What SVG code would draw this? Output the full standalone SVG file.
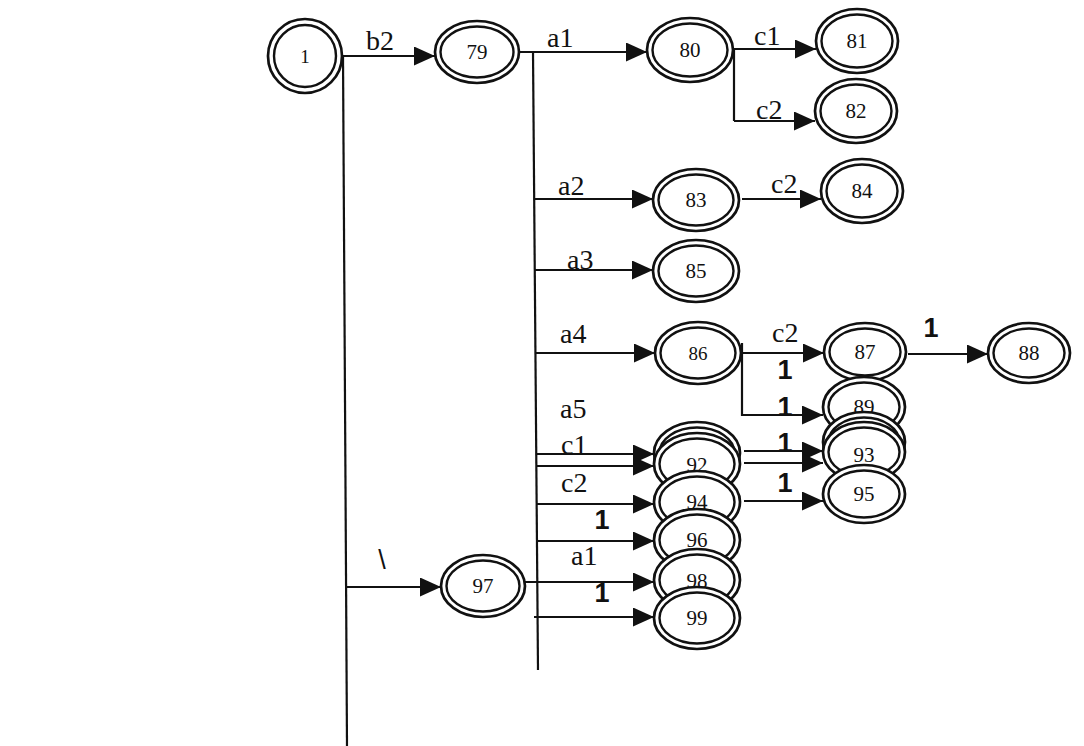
<svg xmlns="http://www.w3.org/2000/svg" width="1084" height="746" viewBox="0 0 1084 746">
<style>
.o{fill:#fff;stroke:#111;stroke-width:2.7}
.i{fill:none;stroke:#111;stroke-width:2.4}
.n{font-family:"Liberation Serif",serif;font-size:21px;text-anchor:middle;fill:#111}
.l{font-family:"Liberation Serif",serif;font-size:28px;fill:#111}
.b{font-family:"Liberation Sans",sans-serif;font-weight:bold;font-size:27px;text-anchor:middle;fill:#111}
.e{stroke:#111;stroke-width:2.2;fill:none}
.a{marker-end:url(#ah)}
</style>
<defs>
<marker id="ah" markerUnits="userSpaceOnUse" markerWidth="21" markerHeight="19" refX="21" refY="9.5" orient="auto">
<path d="M0,0 L21,9.5 L0,19 Z" fill="#111"/>
</marker>
</defs>
<rect width="1084" height="746" fill="#fff"/>
<g id="connectors">
<line class="e a" x1="342" y1="56" x2="435" y2="56"/>
<line class="e" x1="343" y1="56" x2="347" y2="746"/>
<line class="e a" x1="345" y1="587" x2="441" y2="587"/>
<line class="e a" x1="520" y1="52" x2="647" y2="52"/>
<line class="e" x1="533" y1="52" x2="538" y2="670"/>
<line class="e a" x1="535" y1="199" x2="653" y2="199"/>
<line class="e a" x1="535" y1="270" x2="653" y2="270"/>
<line class="e a" x1="536" y1="353" x2="655" y2="353"/>
<line class="e a" x1="537" y1="454" x2="654" y2="454"/>
<line class="e a" x1="537" y1="466" x2="654" y2="466"/>
<line class="e a" x1="537" y1="504" x2="654" y2="504"/>
<line class="e a" x1="537" y1="541" x2="654" y2="541"/>
<line class="e a" x1="525" y1="582" x2="654" y2="582"/>
<line class="e a" x1="534" y1="617" x2="654" y2="617"/>
<line class="e a" x1="733" y1="49" x2="816" y2="49"/>
<line class="e" x1="734" y1="49" x2="734" y2="121"/>
<line class="e a" x1="734" y1="121" x2="815" y2="121"/>
<line class="e a" x1="742" y1="199" x2="821" y2="199"/>
<line class="e a" x1="742" y1="353" x2="824" y2="353"/>
<line class="e" x1="742" y1="343" x2="742" y2="416"/>
<line class="e a" x1="742" y1="415" x2="823" y2="415"/>
<line class="e a" x1="908" y1="354" x2="988" y2="354"/>
<line class="e a" x1="744" y1="451" x2="823" y2="451"/>
<line class="e a" x1="744" y1="463" x2="823" y2="463"/>
<line class="e a" x1="744" y1="501" x2="823" y2="501"/>
</g>
<g id="labels">
<text class="l" x="366" y="50">b2</text>
<text class="l" x="547" y="47">a1</text>
<text class="l" x="754" y="45">c1</text>
<text class="l" x="756" y="119">c2</text>
<text class="l" x="558" y="195">a2</text>
<text class="l" x="771" y="193">c2</text>
<text class="l" x="567" y="269">a3</text>
<text class="l" x="560" y="343">a4</text>
<text class="l" x="772" y="342">c2</text>
<text class="l" x="560" y="418">a5</text>
<text class="l" x="561" y="454">c1</text>
<text class="l" x="561" y="492">c2</text>
<text class="b" x="602" y="529">1</text>
<text class="l" x="571" y="565">a1</text>
<text class="b" x="602" y="602">1</text>
<text class="b" x="382" y="569" style="font-size:27px;font-weight:normal">\</text>
<text class="b" x="931" y="337">1</text>
<text class="b" x="785" y="379">1</text>
<text class="b" x="785" y="416">1</text>
<text class="b" x="785" y="452">1</text>
<text class="b" x="785" y="492">1</text>
</g>
<g id="n1"><ellipse class="o" cx="305" cy="56" rx="37" ry="37"/><ellipse class="i" cx="305" cy="56" rx="31" ry="31"/><text class="n" x="305" y="63" style="font-size:19px">1</text></g>
<g id="n79"><ellipse class="o" cx="477" cy="52" rx="42" ry="31"/><ellipse class="i" cx="477" cy="52" rx="36.5" ry="25.5"/><text class="n" x="477" y="59">79</text></g>
<g id="n80"><ellipse class="o" cx="690" cy="50" rx="43" ry="32"/><ellipse class="i" cx="690" cy="50" rx="37.5" ry="26.5"/><text class="n" x="690" y="57">80</text></g>
<g id="n81"><ellipse class="o" cx="857" cy="41" rx="41" ry="32"/><ellipse class="i" cx="857" cy="41" rx="35.5" ry="26.5"/><text class="n" x="857" y="48">81</text></g>
<g id="n82"><ellipse class="o" cx="856" cy="111" rx="41" ry="32"/><ellipse class="i" cx="856" cy="111" rx="35.5" ry="26.5"/><text class="n" x="856" y="118">82</text></g>
<g id="n83"><ellipse class="o" cx="696" cy="200" rx="43" ry="31"/><ellipse class="i" cx="696" cy="200" rx="37.5" ry="25.5"/><text class="n" x="696" y="207">83</text></g>
<g id="n84"><ellipse class="o" cx="862" cy="191" rx="41" ry="32"/><ellipse class="i" cx="862" cy="191" rx="35.5" ry="26.5"/><text class="n" x="862" y="198">84</text></g>
<g id="n85"><ellipse class="o" cx="696" cy="271" rx="43" ry="31"/><ellipse class="i" cx="696" cy="271" rx="37.5" ry="25.5"/><text class="n" x="696" y="278">85</text></g>
<g id="n86"><ellipse class="o" cx="698" cy="353" rx="43" ry="31"/><ellipse class="i" cx="698" cy="353" rx="37.5" ry="25.5"/><text class="n" x="698" y="360" style="font-size:19px">86</text></g>
<g id="n87"><ellipse class="o" cx="865" cy="352" rx="41" ry="29"/><ellipse class="i" cx="865" cy="352" rx="35.5" ry="23.5"/><text class="n" x="865" y="359">87</text></g>
<g id="n88"><ellipse class="o" cx="1029" cy="353" rx="41" ry="30"/><ellipse class="i" cx="1029" cy="353" rx="35.5" ry="24.5"/><text class="n" x="1029" y="360">88</text></g>
<g id="n89"><ellipse class="o" cx="864" cy="407" rx="41" ry="30"/><ellipse class="i" cx="864" cy="407" rx="35.5" ry="24.5"/><text class="n" x="864" y="414">89</text></g>
<g id="n91"><ellipse class="o" cx="864" cy="442" rx="41" ry="30"/><ellipse class="i" cx="864" cy="442" rx="35.5" ry="24.5"/></g>
<g id="n93"><ellipse class="o" cx="864" cy="452" rx="41" ry="30"/><ellipse class="i" cx="864" cy="452" rx="35.5" ry="24.5"/><text class="n" x="864" y="462">93</text></g>
<g id="n95"><ellipse class="o" cx="864" cy="494" rx="41" ry="29"/><ellipse class="i" cx="864" cy="494" rx="35.5" ry="23.5"/><text class="n" x="864" y="501">95</text></g>
<g id="n90"><ellipse class="o" cx="697" cy="453" rx="43" ry="31"/><ellipse class="i" cx="697" cy="453" rx="37.5" ry="25.5"/></g>
<g id="n92"><ellipse class="o" cx="697" cy="464" rx="43" ry="31"/><ellipse class="i" cx="697" cy="464" rx="37.5" ry="25.5"/><text class="n" x="697" y="472">92</text></g>
<g id="n94"><ellipse class="o" cx="697" cy="502" rx="43" ry="31"/><ellipse class="i" cx="697" cy="502" rx="37.5" ry="25.5"/><text class="n" x="697" y="509">94</text></g>
<g id="n96"><ellipse class="o" cx="697" cy="540" rx="43" ry="31"/><ellipse class="i" cx="697" cy="540" rx="37.5" ry="25.5"/><text class="n" x="697" y="547">96</text></g>
<g id="n98"><ellipse class="o" cx="697" cy="580" rx="43" ry="31"/><ellipse class="i" cx="697" cy="580" rx="37.5" ry="25.5"/><text class="n" x="697" y="588">98</text></g>
<g id="n99"><ellipse class="o" cx="697" cy="618" rx="43" ry="31"/><ellipse class="i" cx="697" cy="618" rx="37.5" ry="25.5"/><text class="n" x="697" y="625">99</text></g>
<g id="n97"><ellipse class="o" cx="483" cy="586" rx="42" ry="31"/><ellipse class="i" cx="483" cy="586" rx="36.5" ry="25.5"/><text class="n" x="483" y="593">97</text></g>
</svg>
